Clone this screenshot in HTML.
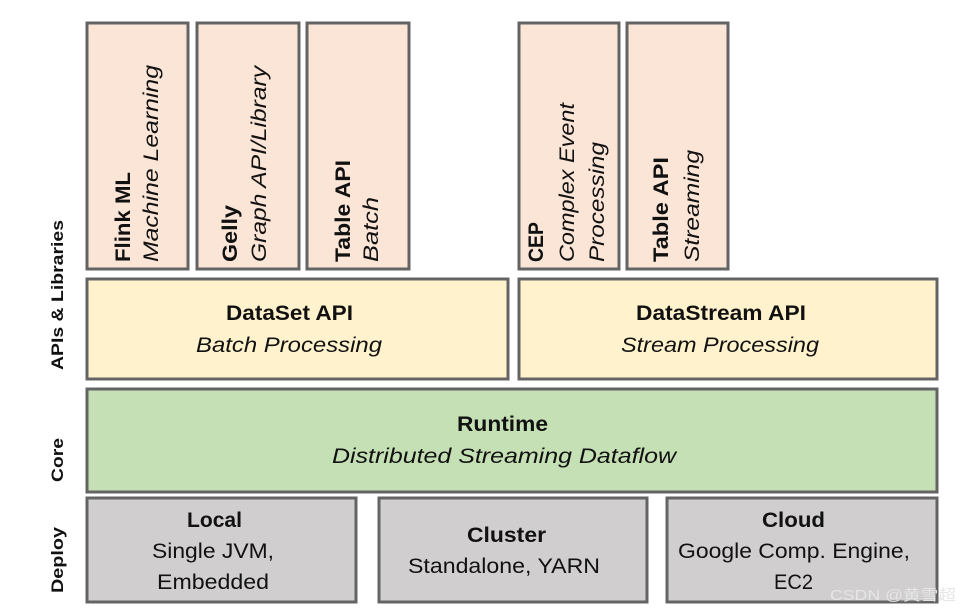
<!DOCTYPE html>
<html><head><meta charset="utf-8"><style>
html,body{margin:0;padding:0;background:#fff;width:962px;height:612px;overflow:hidden}
svg{display:block}
text{font-family:"Liberation Sans","Noto Sans CJK SC",sans-serif;fill:#111}
.b{font-weight:bold;font-size:21px}
.i{font-style:italic;font-size:21px}
.r{font-size:21px}
.s{font-weight:bold;font-size:17px}
</style></head><body>
<svg width="962" height="612" viewBox="0 0 962 612" xmlns="http://www.w3.org/2000/svg">
<g stroke="#646464" stroke-width="3">
<rect x="87" y="23" width="101" height="246" fill="#fbe5d6"/>
<rect x="197" y="23" width="102" height="246" fill="#fbe5d6"/>
<rect x="307" y="23" width="102" height="246" fill="#fbe5d6"/>
<rect x="519" y="23" width="100" height="246" fill="#fbe5d6"/>
<rect x="627" y="23" width="101" height="246" fill="#fbe5d6"/>
<rect x="87" y="279" width="421" height="100" fill="#fff2cc"/>
<rect x="519" y="279" width="418" height="100" fill="#fff2cc"/>
<rect x="87" y="389" width="850" height="103" fill="#c5e0b4"/>
<rect x="87" y="498" width="269" height="104" fill="#d0cece"/>
<rect x="379" y="498" width="268" height="104" fill="#d0cece"/>
<rect x="667" y="498" width="270" height="104" fill="#d0cece"/>
</g>
<g>
<text class="b" transform="translate(130,262) rotate(-90)" textLength="90" lengthAdjust="spacingAndGlyphs">Flink ML</text>
<text class="i" transform="translate(158,262) rotate(-90)" textLength="197" lengthAdjust="spacingAndGlyphs">Machine Learning</text>
<text class="b" transform="translate(237,262) rotate(-90)" textLength="57" lengthAdjust="spacingAndGlyphs">Gelly</text>
<text class="i" transform="translate(266,262) rotate(-90)" textLength="196" lengthAdjust="spacingAndGlyphs">Graph API/Library</text>
<text class="b" transform="translate(350,262) rotate(-90)" textLength="102" lengthAdjust="spacingAndGlyphs">Table API</text>
<text class="i" transform="translate(378,262) rotate(-90)" textLength="65" lengthAdjust="spacingAndGlyphs">Batch</text>
<text class="b" transform="translate(543,262) rotate(-90)" textLength="40" lengthAdjust="spacingAndGlyphs">CEP</text>
<text class="i" transform="translate(574,262) rotate(-90)" textLength="159" lengthAdjust="spacingAndGlyphs">Complex Event</text>
<text class="i" transform="translate(604,262) rotate(-90)" textLength="120" lengthAdjust="spacingAndGlyphs">Processing</text>
<text class="b" transform="translate(668,262) rotate(-90)" textLength="105" lengthAdjust="spacingAndGlyphs">Table API</text>
<text class="i" transform="translate(699,262) rotate(-90)" textLength="112" lengthAdjust="spacingAndGlyphs">Streaming</text>

<text class="s" transform="translate(63,370) rotate(-90)" textLength="150" lengthAdjust="spacingAndGlyphs">APIs &amp; Libraries</text>
<text class="s" transform="translate(63,482) rotate(-90)" textLength="44" lengthAdjust="spacingAndGlyphs">Core</text>
<text class="s" transform="translate(63,593) rotate(-90)" textLength="66" lengthAdjust="spacingAndGlyphs">Deploy</text>

<text class="b" x="226" y="320" textLength="127" lengthAdjust="spacingAndGlyphs">DataSet API</text>
<text class="i" x="196" y="352" textLength="186" lengthAdjust="spacingAndGlyphs">Batch Processing</text>
<text class="b" x="636" y="320" textLength="170" lengthAdjust="spacingAndGlyphs">DataStream  API</text>
<text class="i" x="621" y="352" textLength="198" lengthAdjust="spacingAndGlyphs">Stream Processing</text>
<text class="b" x="457" y="431" textLength="91" lengthAdjust="spacingAndGlyphs">Runtime</text>
<text class="i" x="332" y="463" textLength="344" lengthAdjust="spacingAndGlyphs">Distributed Streaming Dataflow</text>

<text class="b" x="187" y="527" textLength="55" lengthAdjust="spacingAndGlyphs">Local</text>
<text class="r" x="152" y="558" textLength="122" lengthAdjust="spacingAndGlyphs">Single JVM,</text>
<text class="r" x="157" y="589" textLength="112" lengthAdjust="spacingAndGlyphs">Embedded</text>
<text class="b" x="467" y="542" textLength="79" lengthAdjust="spacingAndGlyphs">Cluster</text>
<text class="r" x="408" y="573" textLength="192" lengthAdjust="spacingAndGlyphs">Standalone, YARN</text>
<text class="b" x="762" y="527" textLength="63" lengthAdjust="spacingAndGlyphs">Cloud</text>
<text class="r" x="678" y="558" textLength="232" lengthAdjust="spacingAndGlyphs">Google Comp. Engine,</text>
<text class="r" x="774" y="589" textLength="39" lengthAdjust="spacingAndGlyphs">EC2</text>

<text x="830" y="600" style="font-size:15px;fill:#e6e6e6" textLength="126" lengthAdjust="spacingAndGlyphs">CSDN @黄雪超</text>
</g>
</svg>
</body></html>
